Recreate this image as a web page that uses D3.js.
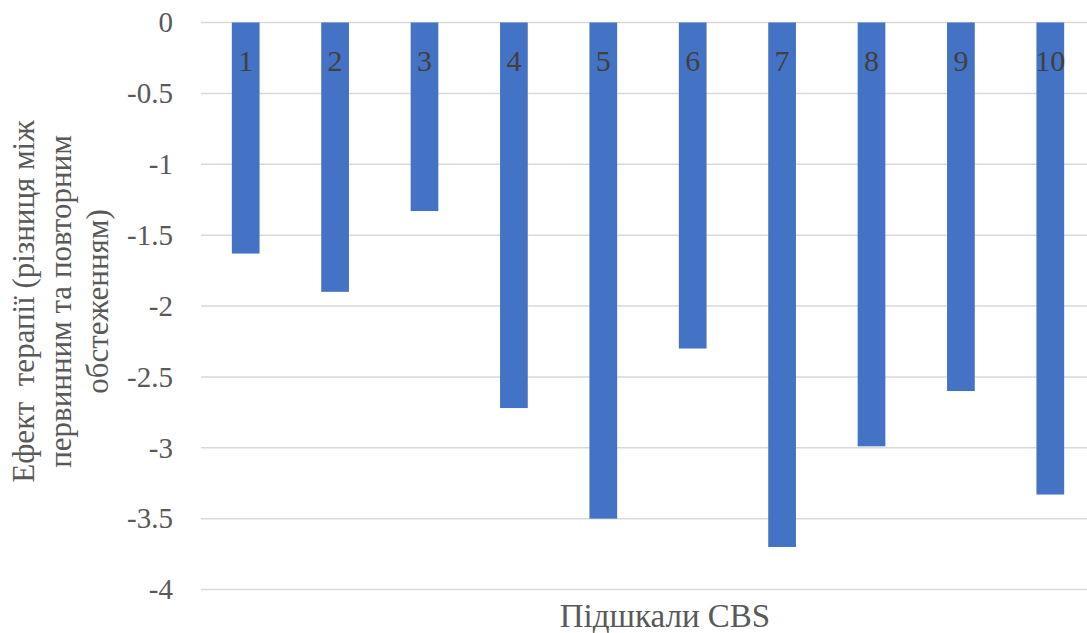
<!DOCTYPE html>
<html>
<head>
<meta charset="utf-8">
<script src="https://cdn.jsdelivr.net/npm/d3@7"></script>
<style>
  body { margin: 0; background: #fff; }
</style>
</head>
<body>
<div id="chart"></div>
<script>
var categories = ["1", "2", "3", "4", "5", "6", "7", "8", "9", "10"];
var values = [-1.63, -1.9, -1.33, -2.72, -3.5, -2.3, -3.7, -2.99, -2.6, -3.33];
var yTicks = [0, -0.5, -1, -1.5, -2, -2.5, -3, -3.5, -4];
var yTitle = ["Ефект  терапії (різниця між", "первинним та повторним", "обстеженням)"];
var xTitle = "Підшкали CBS";

var width = 1087, height = 633;
var plotLeft = 201, plotRight = 1095, plotTop = 22.5, plotBottom = 589.5;
var serif = "'Liberation Serif'";

var svg = d3.select("#chart").append("svg")
  .attr("width", width)
  .attr("height", height)
  .style("font-family", serif);

var x = d3.scaleBand()
  .domain(categories)
  .range([plotLeft, plotRight])
  .paddingInner(0.69)
  .paddingOuter(0.345);

var y = d3.scaleLinear()
  .domain([0, -4])
  .range([plotTop, plotBottom]);

// grid lines
svg.append("g")
  .attr("class", "grid")
  .selectAll("line")
  .data(yTicks)
  .enter().append("line")
    .attr("x1", plotLeft)
    .attr("x2", width)
    .attr("y1", function (d) { return y(d); })
    .attr("y2", function (d) { return y(d); })
    .attr("stroke", "#d9d9d9")
    .attr("stroke-width", 1.5);

// y tick labels
var yAxis = d3.axisLeft(y)
  .tickValues(yTicks)
  .tickSize(0)
  .tickPadding(0)
  .tickFormat(function (d) { return String(d); });

var yG = svg.append("g")
  .attr("transform", "translate(173,0)")
  .call(yAxis);
yG.attr("font-family", null);
yG.select(".domain").remove();
yG.selectAll("text")
  .style("font-family", serif)
  .attr("font-size", 29)
  .attr("fill", "#595959");

// bars
svg.append("g")
  .selectAll("rect")
  .data(values)
  .enter().append("rect")
    .attr("x", function (d, i) { return x(categories[i]); })
    .attr("y", y(0))
    .attr("width", x.bandwidth())
    .attr("height", function (d) { return y(d) - y(0); })
    .attr("fill", "#4472c4");

// data labels
svg.append("g")
  .selectAll("text")
  .data(values)
  .enter().append("text")
    .attr("x", function (d, i) { return x(categories[i]) + x.bandwidth() / 2; })
    .attr("y", y(0) + 48)
    .attr("text-anchor", "middle")
    .style("font-family", serif)
    .attr("font-size", 30)
    .attr("fill", "#404040")
    .text(function (d, i) { return categories[i]; });

// axis titles
svg.append("text")
  .attr("x", 665)
  .attr("y", 627)
  .attr("text-anchor", "middle")
  .style("font-family", serif)
  .attr("font-size", 33)
  .attr("fill", "#595959")
  .text(xTitle);

var yt = svg.append("text")
  .attr("transform", "translate(0,301.5) rotate(-90)")
  .attr("text-anchor", "middle")
  .style("font-family", serif)
  .attr("font-size", 31)
  .attr("fill", "#595959");
yt.selectAll("tspan")
  .data(yTitle)
  .enter().append("tspan")
    .attr("x", 0)
    .attr("y", function (d, i) { return 33.5 + i * 37.3; })
    .style("white-space", "pre")
    .text(function (d) { return d; });
</script>
</body>
</html>
